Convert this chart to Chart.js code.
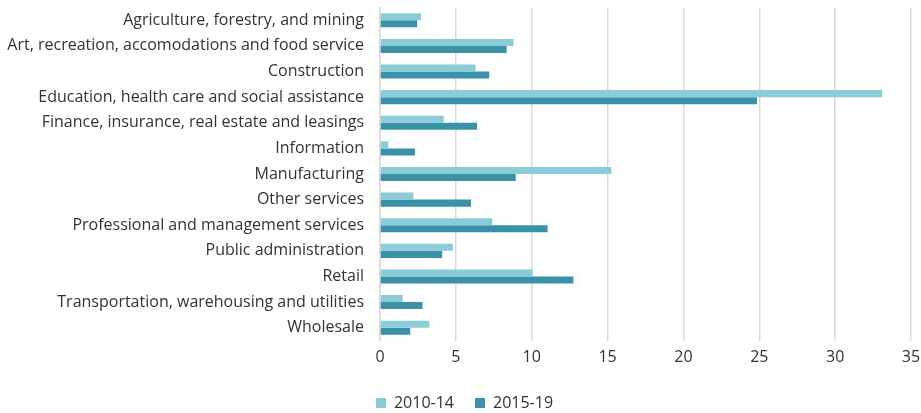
<!DOCTYPE html>
<html>
<head>
<meta charset="utf-8">
<script src="https://cdn.jsdelivr.net/npm/chart.js@4"></script>
<style>
html,body{margin:0;padding:0;background:#fff;}
#wrap{width:921px;height:413px;position:relative;}
</style>
</head>
<body>
<div id="wrap"><canvas id="c" width="921" height="413"></canvas></div>
<script>
const categories = [
  "Agriculture, forestry, and mining",
  "Art, recreation, accomodations and food service",
  "Construction",
  "Education, health care and social assistance",
  "Finance, insurance, real estate and leasings",
  "Information",
  "Manufacturing",
  "Other services",
  "Professional and management services",
  "Public administration",
  "Retail",
  "Transportation, warehousing and utilities",
  "Wholesale"
];
const series2010_14 = [2.7, 8.8, 6.3, 33.1, 4.2, 0.55, 15.25, 2.2, 7.4, 4.8, 10.05, 1.5, 3.25];
const series2015_19 = [2.45, 8.35, 7.2, 24.85, 6.4, 2.3, 8.95, 6.0, 11.05, 4.1, 12.75, 2.8, 2.0];
const seriesNames = ["2010-14", "2015-19"];
const xTicks = [0, 5, 10, 15, 20, 25, 30, 35];

const FONT = "'Open Sans', 'Liberation Sans', Arial, sans-serif";
const TEXT = "#333333";
const FS = 16;

const legendShift = {
  id: 'legendShift',
  afterLayout(chart) {
    const l = chart.legend;
    if (l) { l.left += 9; l.right += 9; }
  }
};

new Chart(document.getElementById('c'), {
  type: 'bar',
  data: {
    labels: categories,
    datasets: [
      { label: seriesNames[0], data: series2010_14, backgroundColor: '#8accd8', borderWidth: 0 },
      { label: seriesNames[1], data: series2015_19, backgroundColor: '#3a92a8', borderWidth: 0 }
    ]
  },
  plugins: [legendShift],
  options: {
    indexAxis: 'y',
    responsive: false,
    animation: false,
    devicePixelRatio: 1,
    layout: { padding: { top: 7.5, right: 10, bottom: -8, left: 0 } },
    datasets: { bar: { barPercentage: 1.0, categoryPercentage: 0.55 } },
    scales: {
      x: {
        min: 0, max: 35,
        afterBuildTicks: (s) => { s.ticks = xTicks.map(v => ({ value: v })); },
        afterFit: (s) => { s.height = 33.5; s.paddingRight = 0; s.paddingLeft = 0; },
        grid: { color: '#d9d9d9', lineWidth: 1.5, drawTicks: false },
        border: { display: false },
        ticks: { color: TEXT, font: { family: FONT, size: FS }, padding: 7 }
      },
      y: {
        afterFit: (s) => { s.width = 380; s.paddingTop = 0; s.paddingBottom = 0; },
        grid: { display: false, drawTicks: false },
        border: { display: true, color: '#d9d9d9', width: 1.5 },
        ticks: { color: TEXT, font: { family: FONT, size: FS }, padding: 16, autoSkip: false }
      }
    },
    plugins: {
      legend: {
        position: 'bottom',
        labels: { color: TEXT, font: { family: FONT, size: FS }, boxWidth: 10, boxHeight: 10, padding: 21 }
      },
      tooltip: { enabled: false }
    }
  }
});
</script>
</body>
</html>
